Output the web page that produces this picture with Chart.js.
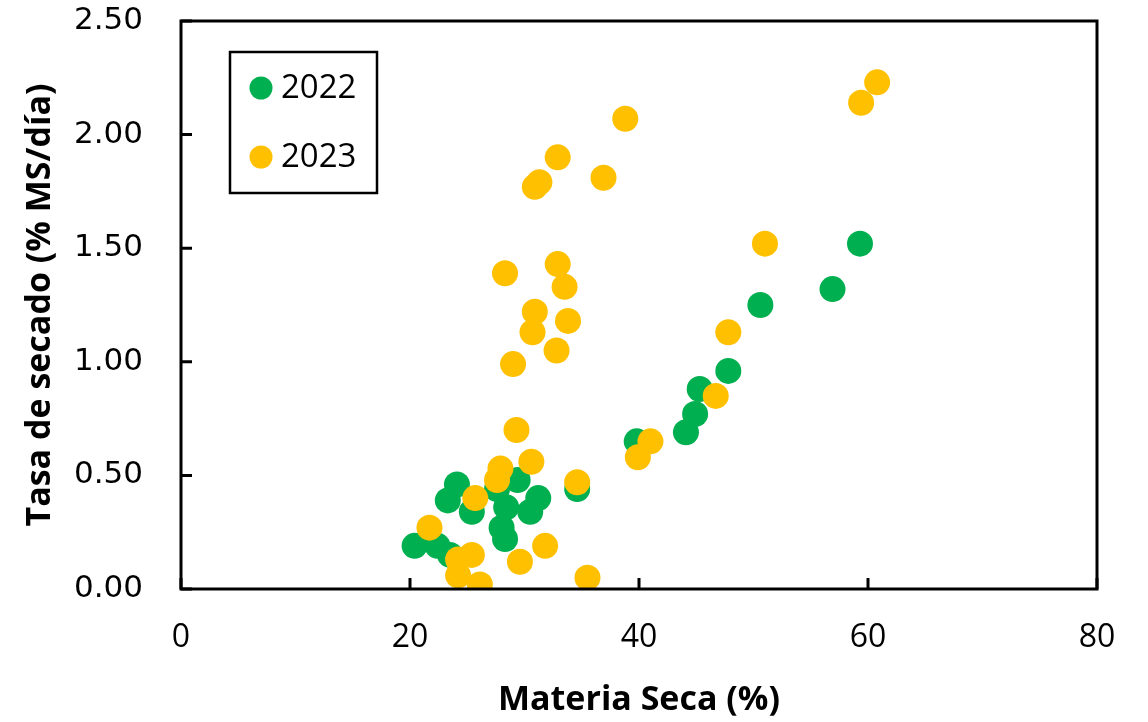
<!DOCTYPE html>
<html>
<head>
<meta charset="utf-8">
<script src="https://cdn.jsdelivr.net/npm/chart.js@4"></script>
<style>
  html, body { margin: 0; padding: 0; background: #fff; }
  #wrap { width: 1148px; height: 722px; }
</style>
</head>
<body>
<div id="wrap"><canvas id="chart"></canvas></div>
<script>
// Materia seca (%) vs tasa de secado (% MS/dia)
const ms2022 = [20.4, 22.4, 23.5, 23.3, 24.1, 25.4, 27.6, 28.0, 28.3, 28.4, 29.4, 30.5, 31.2, 34.6, 39.8, 44.1, 44.9, 45.3, 47.8, 50.6, 56.9, 59.3];
const tasa2022 = [0.19, 0.19, 0.15, 0.39, 0.46, 0.34, 0.44, 0.27, 0.22, 0.36, 0.48, 0.34, 0.40, 0.44, 0.65, 0.69, 0.77, 0.88, 0.96, 1.25, 1.32, 1.52];

const ms2023 = [21.7, 24.2, 24.2, 25.4, 26.1, 25.7, 27.6, 27.9, 29.6, 30.6, 31.8, 34.6, 35.5, 29.3, 29.0, 32.8, 30.7, 30.9, 33.8, 33.5, 32.9, 28.3, 30.9, 31.3, 32.9, 36.9, 38.8, 39.9, 41.0, 46.7, 47.8, 51.0, 59.4, 60.8];
const tasa2023 = [0.27, 0.13, 0.06, 0.15, 0.02, 0.40, 0.48, 0.53, 0.12, 0.56, 0.19, 0.47, 0.05, 0.70, 0.99, 1.05, 1.13, 1.22, 1.18, 1.33, 1.43, 1.39, 1.77, 1.79, 1.90, 1.81, 2.07, 0.58, 0.65, 0.85, 1.13, 1.52, 2.14, 2.23];

const seriesNames = ["2022", "2023"];
const xTicks = [0, 20, 40, 60, 80];
const yTicks = [0, 0.5, 1.0, 1.5, 2.0, 2.5];

const GREEN = "#00B050";
const YELLOW = "#FFC000";

const toPoints = (xs, ys) => xs.map((x, i) => ({ x: x, y: ys[i] }));

// box around the plot, inner tick marks, and the framed legend
const framePlugin = {
  id: "frame",
  afterDraw(chart) {
    const { ctx, chartArea: a, scales } = chart;
    ctx.save();
    ctx.strokeStyle = "#000";
    ctx.lineWidth = 3;
    ctx.strokeRect(a.left, a.top, a.right - a.left, a.bottom - a.top);
    ctx.beginPath();
    xTicks.forEach((v) => {
      const px = scales.x.getPixelForValue(v);
      ctx.moveTo(px, a.bottom);
      ctx.lineTo(px, a.bottom - 11);
    });
    yTicks.forEach((v) => {
      const py = scales.y.getPixelForValue(v);
      ctx.moveTo(a.left, py);
      ctx.lineTo(a.left + 11, py);
    });
    ctx.stroke();

    // legend
    const bx = 230, by = 52, bw = 147, bh = 141;
    ctx.fillStyle = "#fff";
    ctx.fillRect(bx, by, bw, bh);
    ctx.lineWidth = 2.5;
    ctx.strokeRect(bx, by, bw, bh);
    ctx.font = "33px 'Open Sans'";
    ctx.textBaseline = "middle";
    chart.data.datasets.forEach((ds, i) => {
      const cy = by + 36 + i * 69;
      ctx.fillStyle = ds.backgroundColor;
      ctx.beginPath();
      ctx.arc(bx + 31, cy, 11.5, 0, Math.PI * 2);
      ctx.fill();
      ctx.fillStyle = "#000";
      ctx.fillText(ds.label, bx + 51, cy + 1);
    });
    ctx.restore();
  }
};

new Chart(document.getElementById("chart"), {
  type: "scatter",
  data: {
    datasets: [
      {
        label: seriesNames[0],
        data: toPoints(ms2022, tasa2022),
        backgroundColor: GREEN,
        borderWidth: 0,
        pointRadius: 13,
        order: 2,
      },
      {
        label: seriesNames[1],
        data: toPoints(ms2023, tasa2023),
        backgroundColor: YELLOW,
        borderWidth: 0,
        pointRadius: 13,
        order: 1,
      },
    ],
  },
  options: {
    responsive: true,
    maintainAspectRatio: false,
    animation: false,
    layout: { padding: { top: 21, right: 51, left: 0, bottom: 0 } },
    plugins: {
      legend: { display: false },
      tooltip: { enabled: false },
    },
    scales: {
      x: {
        type: "linear",
        min: 0,
        max: 80,
        afterBuildTicks: (s) => { s.ticks = xTicks.map((v) => ({ value: v })); },
        afterFit: (s) => { s.height = 133; s.paddingLeft = 0; s.paddingRight = 0; },
        grid: { display: false, drawTicks: false },
        border: { display: false },
        ticks: {
          padding: 30,
          color: "#000",
          font: { family: "'Open Sans'", size: 32 },
        },
        title: {
          display: true,
          text: "Materia Seca (%)",
          color: "#000",
          padding: { top: 0, bottom: 1 },
          font: { family: "'Open Sans'", size: 34, weight: "bold" },
        },
      },
      y: {
        type: "linear",
        min: 0,
        max: 2.5,
        afterBuildTicks: (s) => { s.ticks = yTicks.map((v) => ({ value: v })); },
        afterFit: (s) => { s.width = 181; s.paddingTop = 0; s.paddingBottom = 0; },
        grid: { display: false, drawTicks: false },
        border: { display: false },
        ticks: {
          padding: 38,
          color: "#000",
          font: { family: "'DejaVu Sans'", size: 31 },
          callback: (v) => Number(v).toFixed(2),
        },
        title: {
          display: true,
          text: "Tasa de secado (% MS/día)",
          color: "#000",
          padding: { top: 20, bottom: 0 },
          font: { family: "'Open Sans'", size: 34, weight: "bold" },
        },
      },
    },
  },
  plugins: [framePlugin],
});
</script>
</body>
</html>
